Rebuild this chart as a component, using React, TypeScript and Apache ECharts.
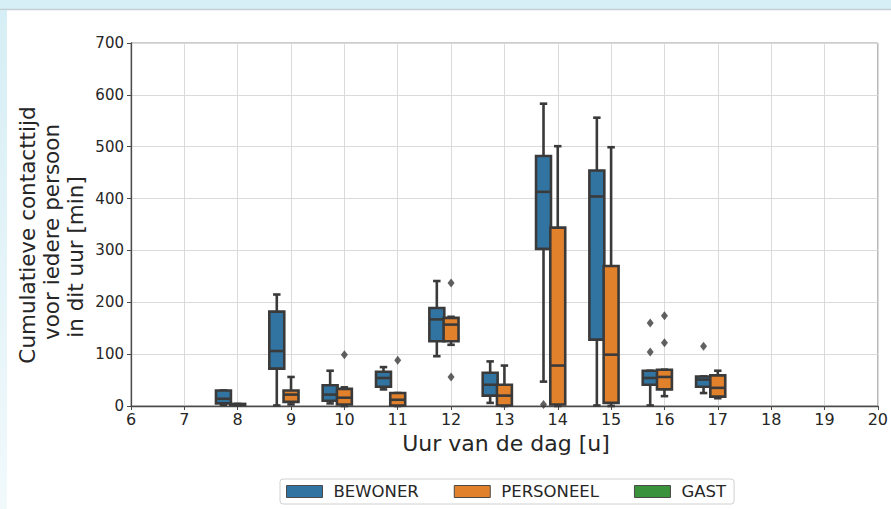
import React, { useEffect, useRef } from "react";
import * as echarts from "echarts";

// ---- data ----
const HOURS = [8, 9, 10, 11, 12, 13, 14, 15, 16, 17];
// [lower whisker, Q1, median, Q3, upper whisker] per hour
const BEWONER_STATS = [
  [2, 5, 14, 30, 30],
  [1, 72, 106, 182, 215],
  [5, 10, 22, 40, 68],
  [32, 37, 54, 66, 75],
  [96, 125, 167, 189, 241],
  [6, 20, 41, 64, 86],
  [47, 303, 413, 482, 583],
  [1, 128, 404, 454, 556],
  [1, 41, 54, 68, 68],
  [25, 37, 51, 57, 57],
];
const BEWONER_OUTLIERS = [
  [14, 3],
  [16, 104],
  [16, 160],
  [17, 115],
];
const PERSONEEL_STATS = [
  [1, 2, 3, 4, 4],
  [3, 8, 22, 30, 56],
  [0, 3, 16, 33, 36],
  [0, 1, 12, 25, 25],
  [118, 125, 157, 170, 172],
  [0, 1, 20, 41, 78],
  [0, 3, 78, 344, 501],
  [0, 6, 99, 270, 499],
  [19, 32, 56, 70, 70],
  [15, 18, 35, 59, 68],
];
const PERSONEEL_OUTLIERS = [
  [10, 99],
  [11, 88],
  [12, 56],
  [12, 237],
  [16, 122],
  [16, 174],
];
const GAST_STATS: number[][] = [];
const GAST_OUTLIERS: number[][] = [];
const SERIES_NAMES = ["BEWONER", "PERSONEEL", "GAST"];
const X_TICKS = { min: 6, max: 20, interval: 1 };
const Y_TICKS = { min: 0, max: 700, interval: 100 };

// ---- styles ----
const COLORS = ["#3274a1", "#e1812c", "#3a923a"];
const HUE_OFFSETS = [-0.267, 0, 0.267];
const BOX_W = 0.28;
const EDGE = "#3a3a3a";
const LW = 2.6;
const FONT = "DejaVu Sans";

function boxSeries(name: string, stats: number[][], offset: number, color: string) {
  return {
    name,
    type: "custom",
    data: stats.map((s, i) => [HOURS[i] + offset, ...s]),
    encode: { x: 0, y: [1, 2, 3, 4, 5] },
    itemStyle: { color },
    z: 3,
    renderItem: (params: any, api: any) => {
      const x = api.value(0);
      const low = api.value(1);
      const q1 = api.value(2);
      const med = api.value(3);
      const q3 = api.value(4);
      const high = api.value(5);
      const c = (v: number) => api.coord([x, v]);
      const halfW = api.size([BOX_W, 0])[0] / 2;
      const px = c(med)[0];
      const yLow = c(low)[1];
      const yQ1 = c(q1)[1];
      const yMed = c(med)[1];
      const yQ3 = c(q3)[1];
      const yHigh = c(high)[1];
      const ls = { stroke: EDGE, lineWidth: LW };
      return {
        type: "group",
        children: [
          { type: "line", shape: { x1: px, y1: yLow, x2: px, y2: yQ1 }, style: ls },
          { type: "line", shape: { x1: px, y1: yQ3, x2: px, y2: yHigh }, style: ls },
          { type: "line", shape: { x1: px - halfW / 2, y1: yLow, x2: px + halfW / 2, y2: yLow }, style: ls },
          { type: "line", shape: { x1: px - halfW / 2, y1: yHigh, x2: px + halfW / 2, y2: yHigh }, style: ls },
          {
            type: "rect",
            shape: { x: px - halfW, y: yQ3, width: halfW * 2, height: Math.max(yQ1 - yQ3, 0.5) },
            style: { fill: color, stroke: EDGE, lineWidth: LW },
          },
          { type: "line", shape: { x1: px - halfW, y1: yMed, x2: px + halfW, y2: yMed }, style: ls },
        ],
      };
    },
  };
}

function outlierSeries(pts: number[][], offset: number) {
  return {
    type: "scatter",
    data: pts.map((p) => [p[0] + offset, p[1]]),
    symbol: "diamond",
    symbolSize: [7, 9],
    itemStyle: { color: EDGE },
    z: 4,
    silent: true,
  };
}

export default function App() {
  const ref = useRef<HTMLDivElement>(null);
  useEffect(() => {
    if (!ref.current) return;
    const chart = echarts.init(ref.current, undefined, { renderer: "svg" });
    const allStats = [BEWONER_STATS, PERSONEEL_STATS, GAST_STATS];
    const allOut = [BEWONER_OUTLIERS, PERSONEEL_OUTLIERS, GAST_OUTLIERS];
    const series: any[] = [];
    SERIES_NAMES.forEach((n, i) => {
      series.push(boxSeries(n, allStats[i], HUE_OFFSETS[i], COLORS[i]));
    });
    SERIES_NAMES.forEach((n, i) => {
      series.push(outlierSeries(allOut[i], HUE_OFFSETS[i]));
    });
    chart.setOption({
      animation: false,
      backgroundColor: "#ffffff",
      textStyle: { fontFamily: FONT },
      grid: {
        left: 131,
        right: 11,
        top: 43,
        bottom: 103,
        show: true,
        borderColor: "#9a9a9a",
        borderWidth: 1,
      },
      xAxis: {
        type: "value",
        min: X_TICKS.min,
        max: X_TICKS.max,
        interval: X_TICKS.interval,
        axisLine: { show: true, lineStyle: { color: "#4a4a4a", width: 1.3 } },
        axisTick: { show: true, length: 4, lineStyle: { color: "#4a4a4a" } },
        axisLabel: { fontSize: 16, color: "#262626", margin: 5, fontFamily: FONT },
        splitLine: { show: true, lineStyle: { color: "#dadada", width: 1 } },
      },
      yAxis: {
        type: "value",
        min: Y_TICKS.min,
        max: Y_TICKS.max,
        interval: Y_TICKS.interval,
        axisLine: { show: true, lineStyle: { color: "#4a4a4a", width: 1.3 } },
        axisTick: { show: true, length: 4, lineStyle: { color: "#4a4a4a" } },
        axisLabel: { fontSize: 15, color: "#262626", margin: 7, fontFamily: FONT },
        splitLine: { show: true, lineStyle: { color: "#dadada", width: 1 } },
      },
      legend: {
        left: 280,
        top: 479,
        orient: "horizontal",
        itemWidth: 36,
        itemHeight: 12,
        itemGap: 35,
        padding: [4, 8, 4, 6],
        borderColor: "#d0d0d0",
        borderWidth: 1,
        borderRadius: 3,
        textStyle: { fontSize: 16.5, color: "#262626", fontFamily: FONT, padding: [0, 0, 0, 6] },
        data: SERIES_NAMES.map((n, i) => ({
          name: n,
          icon: "rect",
          itemStyle: { color: COLORS[i], borderColor: "#4a4a4a", borderWidth: 1 },
        })),
      },
      graphic: [
        { type: "rect", shape: { x: 0, y: 0, width: 891, height: 9 }, style: { fill: "#d6eef5" }, silent: true },
        { type: "line", shape: { x1: 0, y1: 9.5, x2: 891, y2: 9.5 }, style: { stroke: "#c2d0d4", lineWidth: 1.5 }, silent: true },
        {
          type: "rect",
          shape: { x: 0, y: 10, width: 7, height: 499 },
          style: {
            fill: new echarts.graphic.LinearGradient(0, 0, 0, 1, [
              { offset: 0, color: "#d6eef5" },
              { offset: 1, color: "#f1f9fb" },
            ]),
          },
          silent: true,
        },
        {
          type: "text",
          x: 506,
          y: 443,
          style: { text: "Uur van de dag [u]", font: `22px "${FONT}"`, fill: "#262626", align: "center", verticalAlign: "middle" },
        },
        {
          type: "text",
          x: 27,
          y: 235,
          rotation: Math.PI / 2,
          style: { text: "Cumulatieve contacttijd", font: `21.5px "${FONT}"`, fill: "#262626", align: "center", verticalAlign: "middle" },
        },
        {
          type: "text",
          x: 51,
          y: 232,
          rotation: Math.PI / 2,
          style: { text: "voor iedere persoon", font: `21.5px "${FONT}"`, fill: "#262626", align: "center", verticalAlign: "middle" },
        },
        {
          type: "text",
          x: 75,
          y: 257,
          rotation: Math.PI / 2,
          style: { text: "in dit uur [min]", font: `21.5px "${FONT}"`, fill: "#262626", align: "center", verticalAlign: "middle" },
        },
      ],
      series,
    });
    return () => chart.dispose();
  }, []);
  return (
    <div style={{ position: "fixed", left: 0, top: 0, width: 891, height: 509, background: "#fff" }}>
      <div ref={ref} style={{ width: 891, height: 509 }} />
    </div>
  );
}
